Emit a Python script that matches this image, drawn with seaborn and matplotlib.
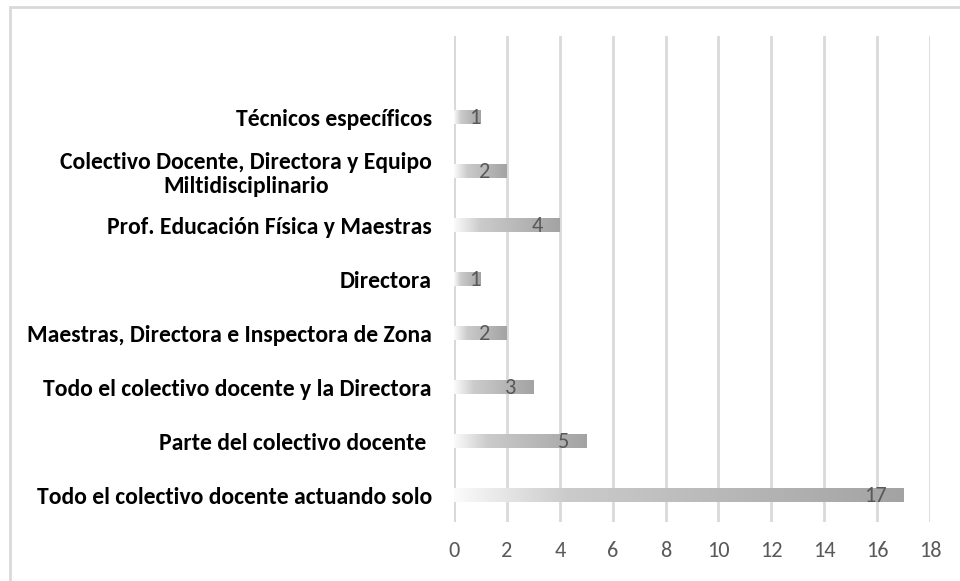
import numpy as np
import matplotlib
matplotlib.use("Agg")
import matplotlib.pyplot as plt
import seaborn as sns
from matplotlib.colors import LinearSegmentedColormap
from matplotlib.patches import Rectangle

# datos (de arriba hacia abajo)
categorias = [
    "Técnicos específicos",
    "Colectivo Docente, Directora y Equipo\nMiltidisciplinario",
    "Prof. Educación Física y Maestras",
    "Directora",
    "Maestras, Directora e Inspectora de Zona",
    "Todo el colectivo docente y la Directora",
    "Parte del colectivo docente ",
    "Todo el colectivo docente actuando solo",
]
valores = [1, 2, 4, 1, 2, 3, 5, 17]
ticks_x = list(range(0, 19, 2))

sns.set_style("white")

fig = plt.figure(figsize=(9.6, 5.81), dpi=100)
ax = fig.add_axes([454/960, 1 - 522/581, (930 - 454)/960, (522 - 36)/581])

sns.barplot(x=valores, y=categorias, orient="h", width=0.26, color="#b0b0b0", ax=ax)

# degradado blanco -> gris en cada barra
cmap = LinearSegmentedColormap.from_list(
    "grad", [(0, "#fbfbfb"), (0.25, "#cbcbcb"), (1, "#a3a3a3")])
grad = np.linspace(0, 1, 256).reshape(1, -1)
for p in ax.patches:
    x0, y0, w, h = p.get_x(), p.get_y(), p.get_width(), p.get_height()
    p.set_facecolor("none")
    p.set_edgecolor("none")
    im = ax.imshow(grad, cmap=cmap, aspect="auto", extent=[x0, x0 + w, y0 + h, y0],
                   zorder=2, interpolation="bilinear")
    im.set_clip_path(p)

# etiquetas de datos
for i, v in enumerate(valores):
    off = -12 if v > 1 else 0
    ax.annotate(str(v), (v, i), xytext=(off, -1), textcoords="offset points",
                ha="right", va="center", fontsize=16, color="#595959",
                family=["Carlito", "DejaVu Sans"], zorder=3)

ax.set_xlim(0, 18)
ax.set_ylim(7.5, -1.5)
ax.set_xticks(ticks_x)
ax.set_xticklabels([str(t) for t in ticks_x], fontsize=16, color="#595959",
                   family=["Carlito", "DejaVu Sans"])
ax.tick_params(axis="x", length=0, pad=14)
ax.tick_params(axis="y", length=0, pad=16)
for lab in ax.get_yticklabels():
    lab.set_fontfamily(["Carlito", "DejaVu Sans"])
    lab.set_fontweight("bold")
    lab.set_fontsize(17)
    lab.set_color("black")
    lab.set_multialignment("center")
    lab.set_linespacing(1.2)

ax.grid(axis="x", color="#d9d9d9", linewidth=2, zorder=0)
ax.set_axisbelow(True)
for s in ax.spines.values():
    s.set_visible(False)
ax.axvline(0, color="#d9d9d9", linewidth=2, zorder=0)
ax.set_xlabel("")
ax.set_ylabel("")

# marco del gráfico
fig.patches.append(Rectangle((10/960, -0.05), 1.0, 1 - 7/581 + 0.05, transform=fig.transFigure,
                             fill=False, edgecolor="#d9d9d9", linewidth=2))

fig.savefig("out.png", dpi=100)
